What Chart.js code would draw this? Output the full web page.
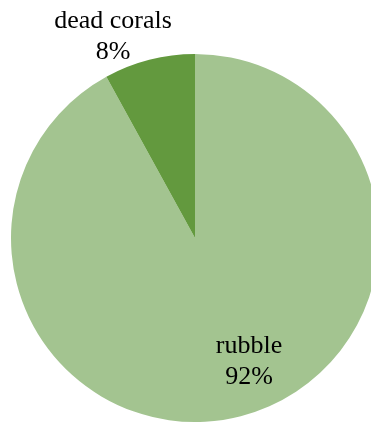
<!DOCTYPE html>
<html>
<head>
<meta charset="utf-8">
<script src="https://cdn.jsdelivr.net/npm/chart.js@4/dist/chart.umd.min.js"></script>
<style>
  html, body { margin: 0; padding: 0; background: #ffffff; overflow: hidden; }
  #wrap { position: relative; width: 371px; height: 422px; overflow: hidden; }
  #pie { position: absolute; left: 0; top: 0; }
</style>
</head>
<body>
<div id="wrap"><canvas id="pie" width="390" height="476"></canvas></div>
<script>
// Composition of the surveyed substrate (percent)
const categories = ['rubble', 'dead corals'];
const shares = [92, 8];
const sliceColors = ['#a3c490', '#63993e'];

// Label anchors relative to the pie centre (px): [dx, dy of first line baseline]
const labelOffsets = [[54, 115], [-82, -210]];

const sliceLabels = {
  id: 'sliceLabels',
  afterDatasetsDraw(chart) {
    const ctx = chart.ctx;
    const meta = chart.getDatasetMeta(0);
    ctx.save();
    ctx.fillStyle = '#000000';
    ctx.font = '26px "Liberation Serif", "Times New Roman", serif';
    ctx.textAlign = 'center';
    ctx.textBaseline = 'alphabetic';
    meta.data.forEach((arc, i) => {
      const [dx, dy] = labelOffsets[i];
      const x = arc.x + dx;
      const y = arc.y + dy;
      ctx.fillText(categories[i], x, y);
      ctx.fillText(shares[i] + '%', x, y + 31);
    });
    ctx.restore();
  }
};

new Chart(document.getElementById('pie'), {
  type: 'pie',
  data: {
    labels: categories,
    datasets: [{
      data: shares,
      backgroundColor: sliceColors,
      borderWidth: 0,
      radius: 184
    }]
  },
  options: {
    responsive: false,
    animation: false,
    layout: { padding: 0 },
    plugins: {
      legend: { display: false },
      tooltip: { enabled: false }
    }
  },
  plugins: [sliceLabels]
});
</script>
</body>
</html>
